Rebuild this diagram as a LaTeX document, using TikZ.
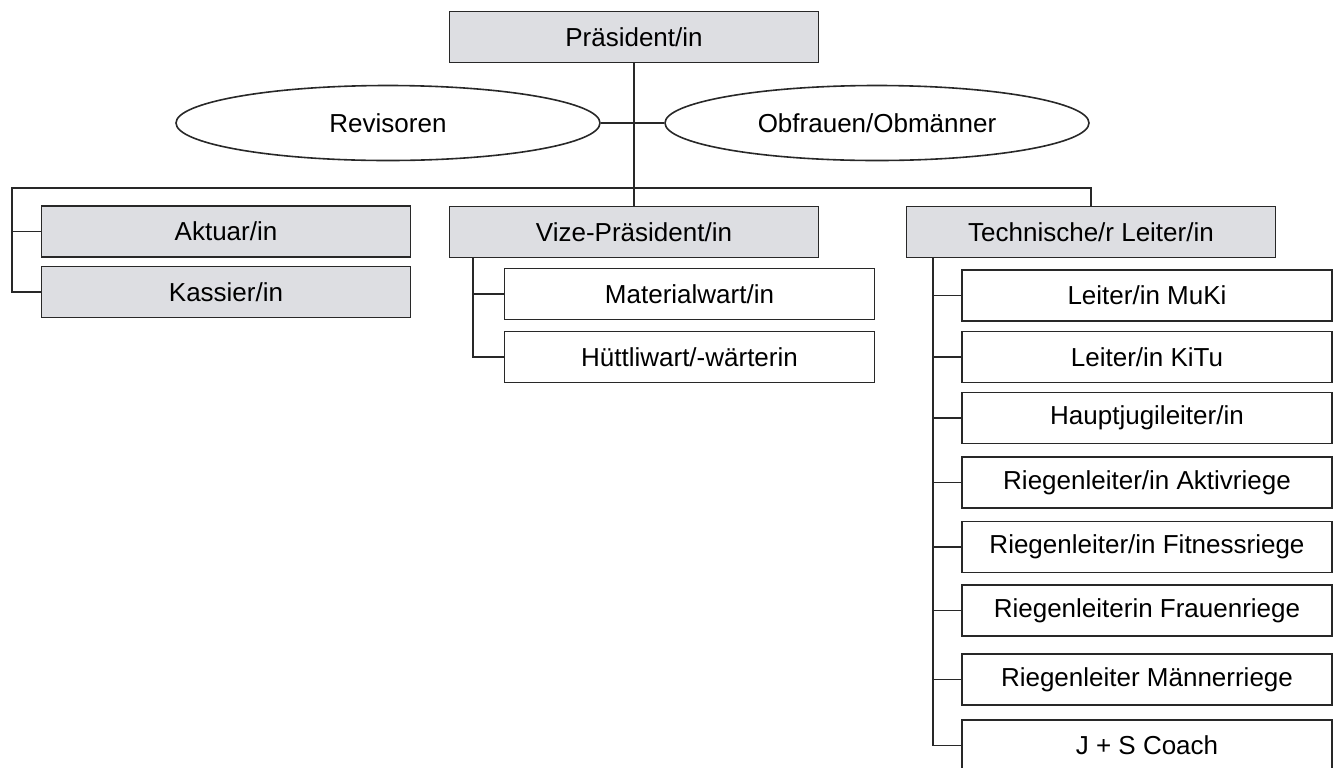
\documentclass[tikz,border=0pt]{standalone}
\usepackage{fontspec}
\setmainfont{Liberation Sans}
\usetikzlibrary{positioning, shapes.geometric}

\definecolor{headgray}{RGB}{221,222,226}
\definecolor{linegray}{RGB}{40,40,40}

\begin{document}
\begin{tikzpicture}[
    x=0.5pt, y=-0.5pt,
    box_style/.style={draw=linegray, line width=0.8pt, fill=white, minimum width=184.5pt, minimum height=25.5pt, inner sep=0pt, font=\fontsize{13}{15}\selectfont},
    head_style/.style={box_style, fill=headgray},
    sub_style/.style={box_style, minimum width=185pt},
    oval_style/.style={ellipse, draw=linegray, line width=0.8pt, minimum width=212pt, minimum height=37.5pt, inner sep=0pt, font=\fontsize{13}{15}\selectfont},
    line_style/.style={draw=linegray, line width=0.8pt}
]
\useasboundingbox (0,0) rectangle (1335,767);

% Top - President and the two ovals
\node[head_style] (praes) at (634,37) {Präsident/in};
\node[oval_style] (rev) at (388,123) {Revisoren};
\node[oval_style] (obf) at (877,123) {Obfrauen/Obmänner};

% Row 2 - Heads
\node[head_style] (aktuar) at (226,231.5) {Aktuar/in};
\node[head_style] (kassier) at (226,292) {Kassier/in};
\node[head_style] (vize) at (634,232) {Vize-Präsident/in};
\node[head_style] (tech) at (1091,232) {Technische/r Leiter/in};

% Under the Vize-President
\node[sub_style] (mat) at (689.5,294) {Materialwart/in};
\node[sub_style] (huett) at (689.5,357) {Hüttliwart/-wärterin};

% Under the technical head
\node[sub_style] (muki) at (1147,295.5) {Leiter/in MuKi};
\node[sub_style] (kitu) at (1147,357) {Leiter/in KiTu};
\node[sub_style] (jugi) at (1147,418) {Hauptjugileiter/in};
\node[sub_style] (aktiv) at (1147,482.5) {Riegenleiter/in Aktivriege};
\node[sub_style] (fitness) at (1147,547) {Riegenleiter/in Fitnessriege};
\node[sub_style] (frauen) at (1147,610.5) {Riegenleiterin Frauenriege};
\node[sub_style] (maenner) at (1147,679.5) {Riegenleiter Männerriege};
\node[sub_style] (js) at (1147,745.5) {J + S Coach};

% Connectors
\coordinate (bus_l) at (12,188);
\coordinate (vize_spine) at (473,257);
\coordinate (tech_spine) at (933,257);

\draw[line_style] (rev.east) -- (obf.west);
\draw[line_style] (praes.south) -- (vize.north);
\draw[line_style] (aktuar.west) -| (bus_l) -| (tech.north);
\draw[line_style] (kassier.west) -| (bus_l);

\draw[line_style] (vize_spine) |- (mat.west);
\draw[line_style] (vize_spine) |- (huett.west);

\draw[line_style] (tech_spine) |- (muki.west);
\draw[line_style] (tech_spine) |- (kitu.west);
\draw[line_style] (tech_spine) |- (jugi.west);
\draw[line_style] (tech_spine) |- (aktiv.west);
\draw[line_style] (tech_spine) |- (fitness.west);
\draw[line_style] (tech_spine) |- (frauen.west);
\draw[line_style] (tech_spine) |- (maenner.west);
\draw[line_style] (tech_spine) |- (js.west);

\end{tikzpicture}
\end{document}
